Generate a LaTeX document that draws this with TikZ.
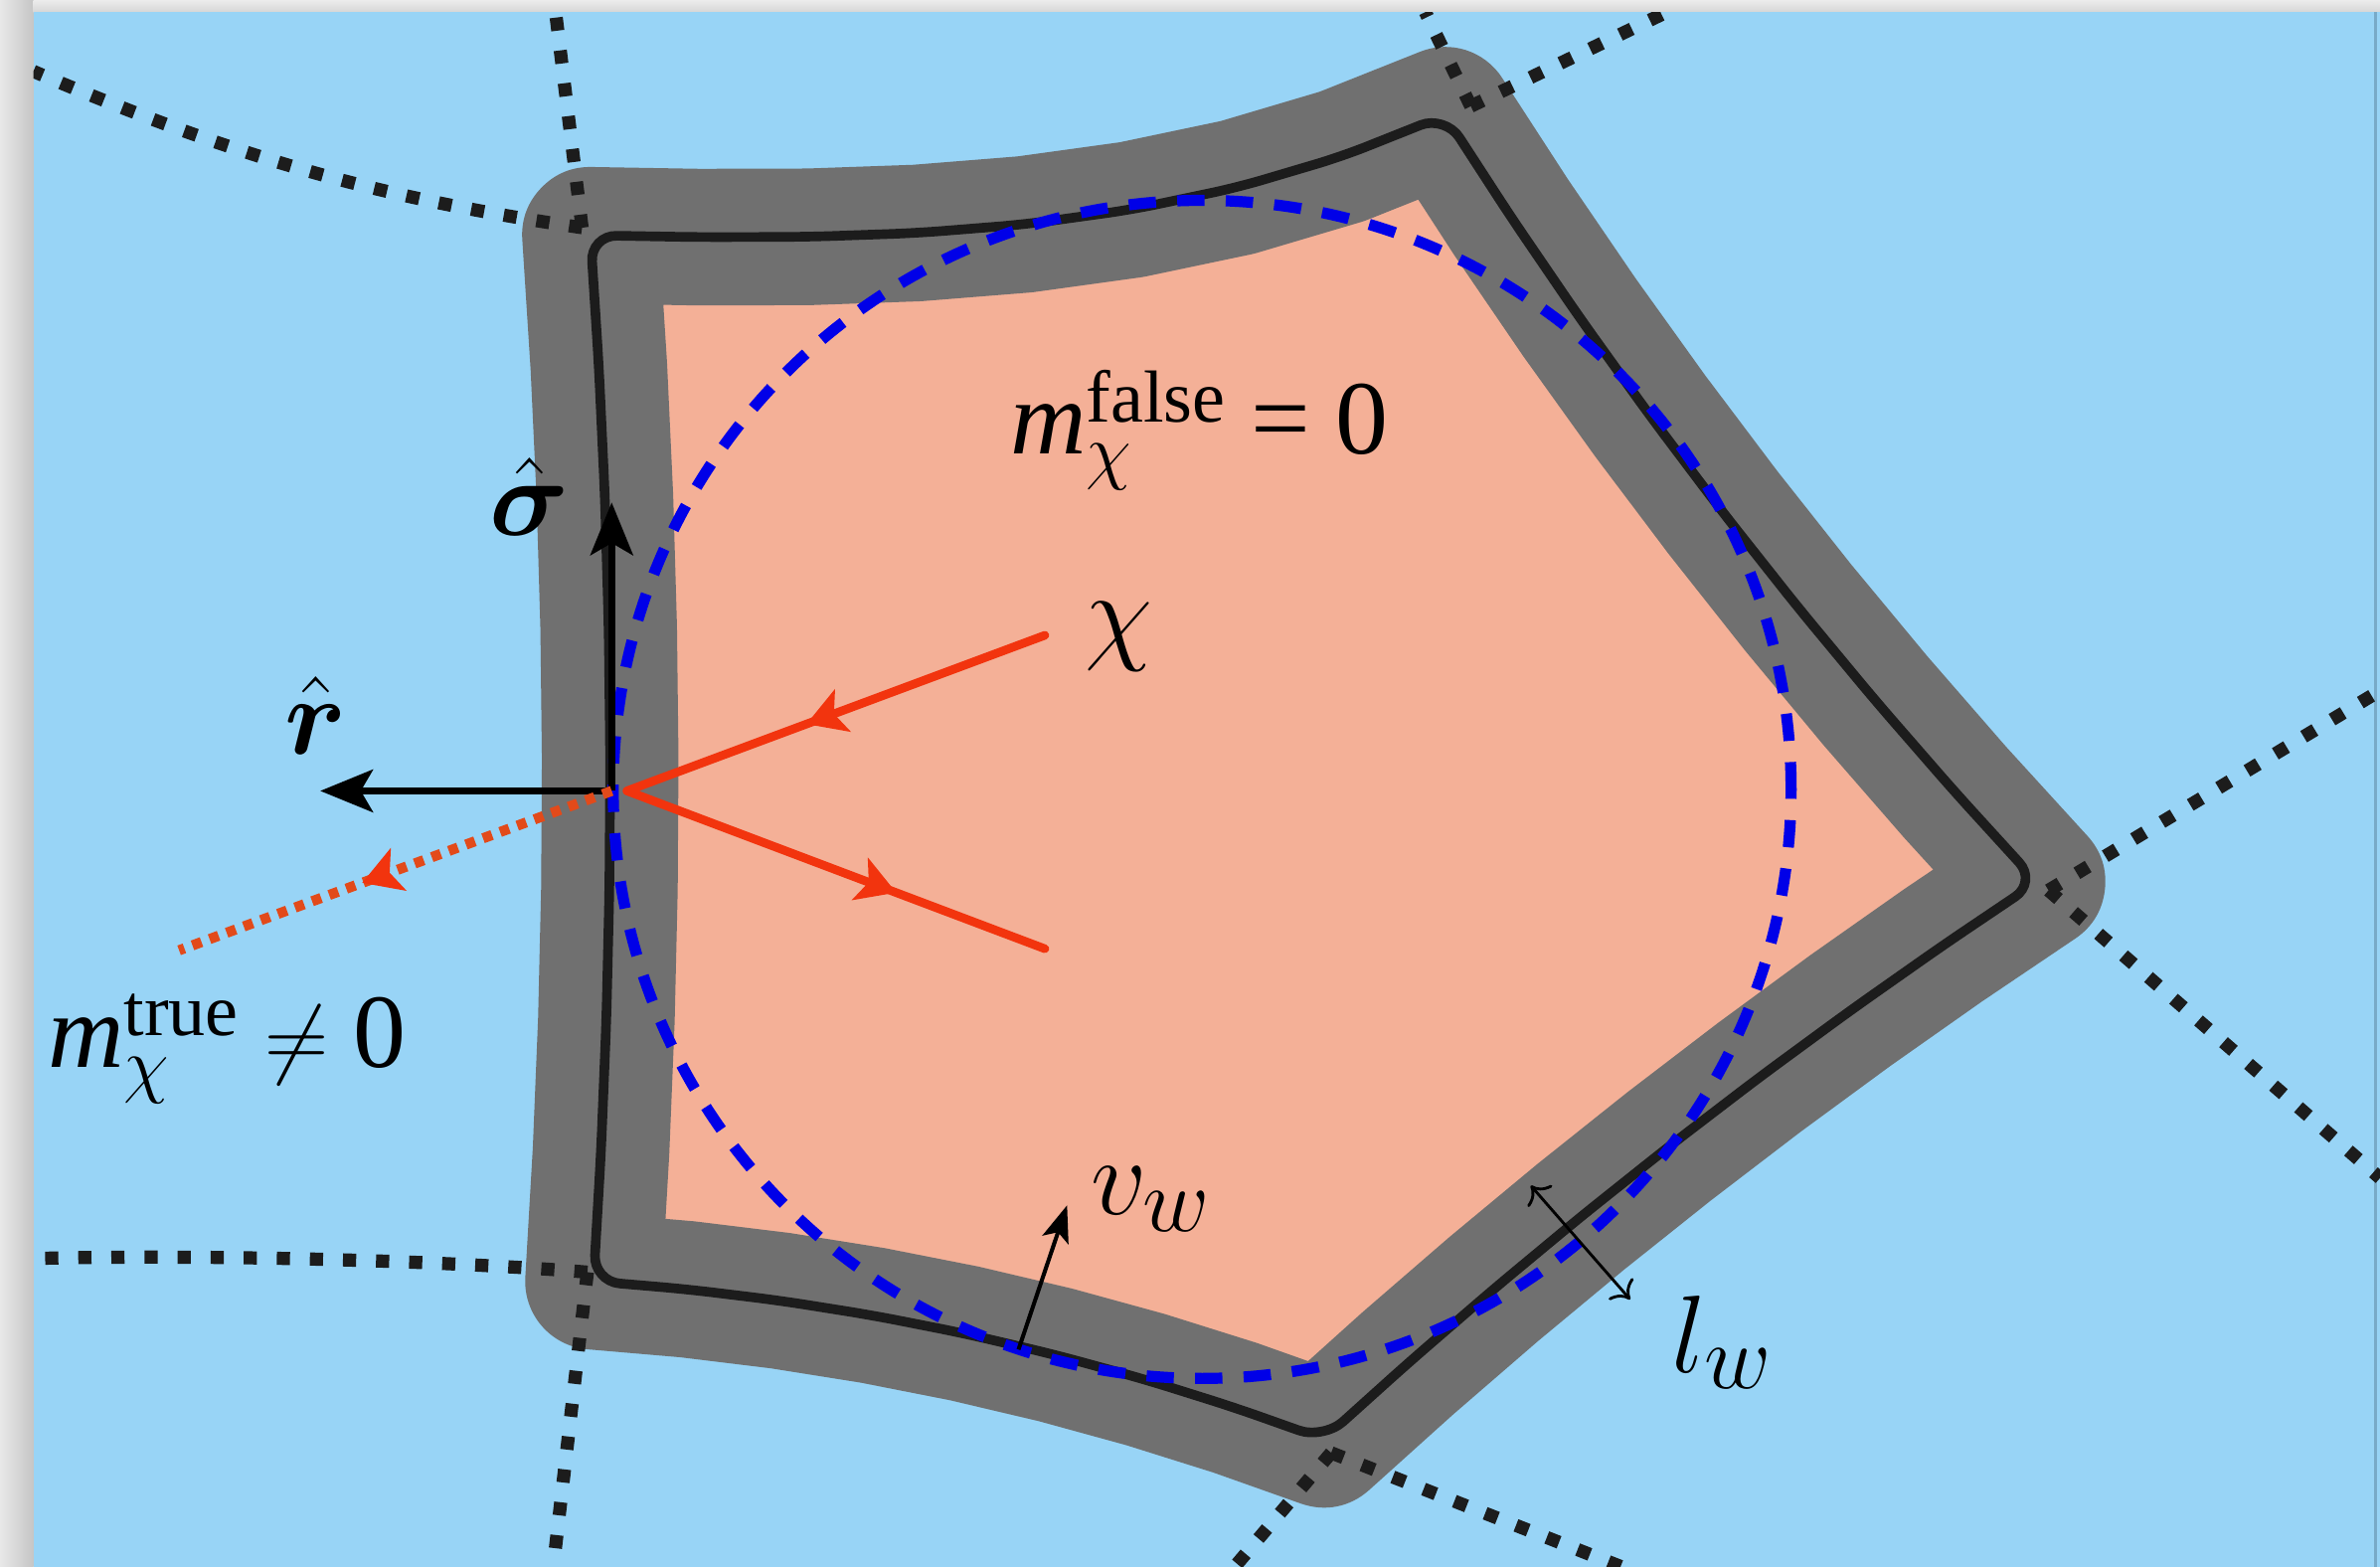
\documentclass[tikz,border=0pt]{standalone}
\usepackage{amsmath}
\usepackage{fontspec}
\newfontfamily\tms{Liberation Serif}
\usetikzlibrary{arrows.meta,decorations.markings}
\definecolor{bgblue}{RGB}{152,212,246}
\definecolor{wallgray}{RGB}{112,112,112}
\definecolor{salmon}{RGB}{244,176,151}
\definecolor{inkblack}{RGB}{28,28,28}
\definecolor{circblue}{RGB}{0,0,232}
\definecolor{chired}{RGB}{242,52,14}
\definecolor{dotred}{RGB}{226,74,26}
\definecolor{edgeline}{RGB}{120,170,200}
\newcommand\lblfont{\tms\fontsize{29.6}{35}\selectfont}
\newcommand\edgepts[1]{-- (#1p1) -- (#1p2) -- (#1p3) -- (#1p4) -- (#1p5) -- (#1p6) -- (#1p7)}
\newcommand\cellpath{(v1) \edgepts{ea} -- (v2) \edgepts{eb} -- (v3) \edgepts{ec} -- (v4) \edgepts{ed} -- (v5) \edgepts{ee} -- cycle}
\begin{document}
\begin{tikzpicture}[x=0.15mm,y=-0.15mm,
  voronoi/.style={color=inkblack, line width=1.3mm, dash pattern=on 1.3mm off 1.97mm},
  wallband/.style={draw=wallgray, line width=13.5mm, line join=round},
  wallline/.style={draw=inkblack, line width=0.95mm, rounded corners=2.6mm},
  bubble/.style={draw=circblue, line width=1.1mm, dash pattern=on 2.7mm off 2.1mm},
  unitvec/.style={color=black, line width=0.68mm, -{Stealth[length=5.2mm,width=4.2mm,inset=1.2mm]}},
  ray/.style={color=chired, line width=0.85mm, line join=round, line cap=round},
  dotray/.style={color=dotred, line width=1.0mm, dash pattern=on 0.95mm off 0.85mm},
  thinvec/.style={color=black, line width=0.4mm, -{Stealth[length=3.6mm,width=2.7mm,inset=0.8mm]}},
  widthvec/.style={color=black, line width=0.28mm, {To[length=1.5mm,width=3.2mm]}-{To[length=1.5mm,width=3.2mm]}},
  lbl/.style={inner sep=0pt, font=\lblfont},
  mlbl/.style={inner sep=0pt, font=\Huge, scale=1.246},
  sample/.style={insert path={
    coordinate[pos=0.125] (#1p1) coordinate[pos=0.25] (#1p2) coordinate[pos=0.375] (#1p3)
    coordinate[pos=0.5] (#1p4) coordinate[pos=0.625] (#1p5) coordinate[pos=0.75] (#1p6)
    coordinate[pos=0.875] (#1p7)}}
]
\useasboundingbox (0,0) rectangle (1568,1032);
% frame with shadow
\fill[gray!28] (0,0) rectangle (1568,1032);
\shade[left color=gray!18, right color=gray!45] (0,0) rectangle (22,1032);
\shade[top color=gray!15, bottom color=gray!32] (22,0) rectangle (1568,8);
\fill[bgblue] (22,8) rectangle (1568,1032);
\draw[edgeline, line width=0.3mm] (1565,8) -- (1565,1032);

% cell vertices
\coordinate (v1) at (389,155);
\coordinate (v2) at (952,76);
\coordinate (v3) at (1342,581);
\coordinate (v4) at (872,948);
\coordinate (v5) at (391,844);
% curved (inward bowing) edges, sampled
\path (v1) .. controls (581.0,159.4) and (772.1,157.8) .. (v2) [sample=ea];
\path (v2) .. controls (1066.2,256.5) and (1196.1,424.8) .. (v3) [sample=eb];
\path (v3) .. controls (1175.6,690.8) and (1019.0,813.1) .. (v4) [sample=ec];
\path (v4) .. controls (716.8,889.8) and (556.4,855.2) .. (v5) [sample=ed];
\path (v5) .. controls (406.3,614.3) and (405.7,384.7) .. (v1) [sample=ee];

% voronoi junctions and ends
\coordinate (j1) at (383.5,150);
\coordinate (j2) at (969,70);
\coordinate (j3) at (1349.6,586.5);
\coordinate (j4) at (877,957);
\coordinate (j5) at (387,838);
\coordinate (j1top) at (366,8);
\coordinate (j1left) at (22,47);
\coordinate (j2top) at (939,8);
\coordinate (j2right) at (1098,8);
\coordinate (j3up) at (1568,455);
\coordinate (j3down) at (1568,776);
\coordinate (j4dl) at (813.5,1032);
\coordinate (j4dr) at (1068,1032);
\coordinate (j5left) at (22,829);
\coordinate (j5down) at (364.5,1032);

% arrows
\coordinate (base) at (403,521);
\coordinate (hit) at (413,521);
\coordinate (chiin) at (688.4,418.5);
\coordinate (chiout) at (688.4,625);
\coordinate (sigtip) at (403,331);
\coordinate (rtip) at (211,521);
\coordinate (redend) at (118,626);
\coordinate (vwtail) at (671,889);
\coordinate (vwtip) at (703,794);
\coordinate (lwa) at (1008.5,781);
\coordinate (lwb) at (1074,856);
\coordinate (ctr) at (792,520);

\begin{scope}
\clip (22,8) rectangle (1568,1032);
\fill[salmon] \cellpath;
\draw[wallband] \cellpath;
% voronoi edges
\draw[voronoi] (j1) -- (j1top);
\draw[voronoi] (j1) .. controls (255,131) and (163,107) .. (j1left);
\draw[voronoi] (j2) -- (j2top);
\draw[voronoi] (j2) -- (j2right);
\draw[voronoi] (j3) -- (j3up);
\draw[voronoi] (j3) -- (j3down);
\draw[voronoi] (j4) -- (j4dl);
\draw[voronoi] (j4) -- (j4dr);
\draw[voronoi] (j5) .. controls (300,831) and (150,826) .. (j5left);
\draw[voronoi] (j5) -- (j5down);
\draw[wallline] \cellpath;
\draw[bubble] (ctr) circle[radius=58.2mm];
\end{scope}

% unit vectors
\draw[unitvec] (base) -- (sigtip);
\draw[unitvec] (base) -- (rtip);
% chi trajectory
\draw[ray, postaction={decorate}, decoration={markings,
  mark=at position 0.285 with {\arrow{Stealth[length=3.8mm,width=4.4mm,inset=0.9mm]}},
  mark=at position 0.822 with {\arrow{Stealth[length=3.8mm,width=4.4mm,inset=0.9mm]}}}]
  (chiin) -- (hit) -- (chiout);
\draw[dotray, postaction={decorate}, decoration={markings,
  mark=at position 0.577 with {\arrow[chired]{Stealth[length=3.8mm,width=4.4mm,inset=0.9mm]}}}]
  (base) -- (redend);
% wall velocity and width
\draw[thinvec] (vwtail) -- (vwtip);
\draw[widthvec] (lwa) -- (lwb);

% labels
\node[lbl, anchor=base west] (mfalse) at (665,299)
  {$\text{\itshape m}^{\text{false}}_{\chi}\mathrel{\text{=}}\text{0}$};
\node[lbl, anchor=base west] (mtrue) at (31,703)
  {$\text{\itshape m}^{\text{true}}_{\chi}\neq\text{0}$};
\node[mlbl, anchor=base] (chilabel) at (737,428) {$\chi$};
\node[mlbl, anchor=base] (siglabel) at (349,353) {$\hat{\boldsymbol{\sigma}}$};
\node[mlbl, anchor=base] (rlabel) at (208,497) {$\hat{\boldsymbol{r}}$};
\node[mlbl, anchor=base west] (vwlabel) at (718,800) {$v_w$};
\node[mlbl, anchor=base west] (lwlabel) at (1101,904) {$l_w$};
\end{tikzpicture}
\end{document}
